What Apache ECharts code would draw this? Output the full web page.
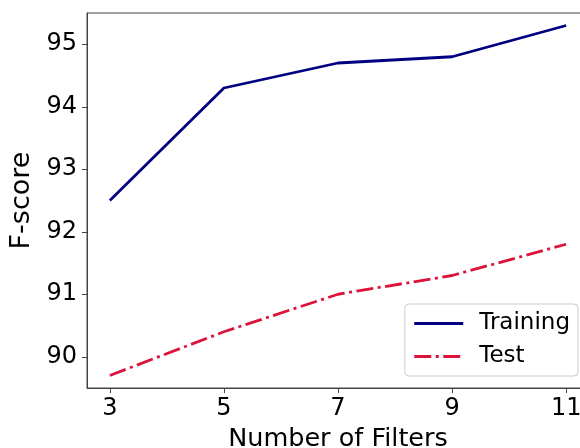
<!DOCTYPE html>
<html>
<head>
<meta charset="utf-8">
<script src="https://cdn.jsdelivr.net/npm/echarts@6/dist/echarts.min.js"></script>
<style>
html,body{margin:0;padding:0;background:#fff;}
#chart{width:580px;height:448px;}
</style>
</head>
<body>
<div id="chart"></div>
<script>
const filters = [3, 5, 7, 9, 11];
const training = [92.5, 94.3, 94.7, 94.8, 95.3];
const test = [89.7, 90.4, 91.0, 91.3, 91.8];
const xTicks = [3, 5, 7, 9, 11];
const yTicks = [90, 91, 92, 93, 94, 95];

const font = 'DejaVu Sans';
const chart = echarts.init(document.getElementById('chart'), null, {renderer: 'canvas'});
chart.setOption({
  animation: false,
  backgroundColor: '#fff',
  grid: {
    left: 87, top: 13, width: 502, height: 375,
    outerBoundsMode: 'none', containLabel: false,
    show: true, borderColor: '#444', borderWidth: 1, backgroundColor: 'transparent'
  },
  legend: {
    orient: 'vertical',
    right: 2, top: 304,
    padding: [8, 8, 8, 8],
    itemGap: 10,
    itemWidth: 49, itemHeight: 14,
    itemStyle: {opacity: 0},
    lineStyle: {width: 2.8},
    backgroundColor: 'rgba(255,255,255,0.8)',
    borderColor: '#cccccc', borderWidth: 1, borderRadius: 4,
    textStyle: {fontFamily: font, fontSize: 23, color: '#000', padding: [0, 0, 0, 11]},
    data: ['Training', 'Test']
  },
  xAxis: {
    type: 'value', min: 2.6, max: 11.4,
    name: 'Number of Filters', nameLocation: 'middle', nameGap: 38,
    nameTextStyle: {fontFamily: font, fontSize: 25.5, color: '#000'},
    axisLine: {show: true, lineStyle: {color: '#444', width: 1}},
    axisTick: {show: true, length: 5, inside: false, customValues: xTicks, lineStyle: {color: '#444'}},
    axisLabel: {customValues: xTicks, margin: 9, fontFamily: font, fontSize: 24, color: '#000'},
    splitLine: {show: false}
  },
  yAxis: {
    type: 'value', min: 89.5, max: 95.5,
    name: 'F-score', nameLocation: 'middle', nameGap: 50,
    nameTextStyle: {fontFamily: font, fontSize: 27, color: '#000'},
    axisLine: {show: true, lineStyle: {color: '#444', width: 1}},
    axisTick: {show: true, length: 5, customValues: yTicks, lineStyle: {color: '#444'}},
    axisLabel: {customValues: yTicks, margin: 10, fontFamily: font, fontSize: 24, color: '#000'},
    splitLine: {show: false}
  },
  series: [
    {
      name: 'Training', type: 'line', symbol: 'none',
      data: filters.map((x, i) => [x, training[i]]),
      lineStyle: {color: '#000080', width: 2.8},
      itemStyle: {color: '#000080'}
    },
    {
      name: 'Test', type: 'line', symbol: 'none',
      data: filters.map((x, i) => [x, test[i]]),
      lineStyle: {color: '#DC143C', width: 2.8, type: [17, 4.5, 3, 4.5]},
      itemStyle: {color: '#DC143C'}
    }
  ]
});
</script>
</body>
</html>
